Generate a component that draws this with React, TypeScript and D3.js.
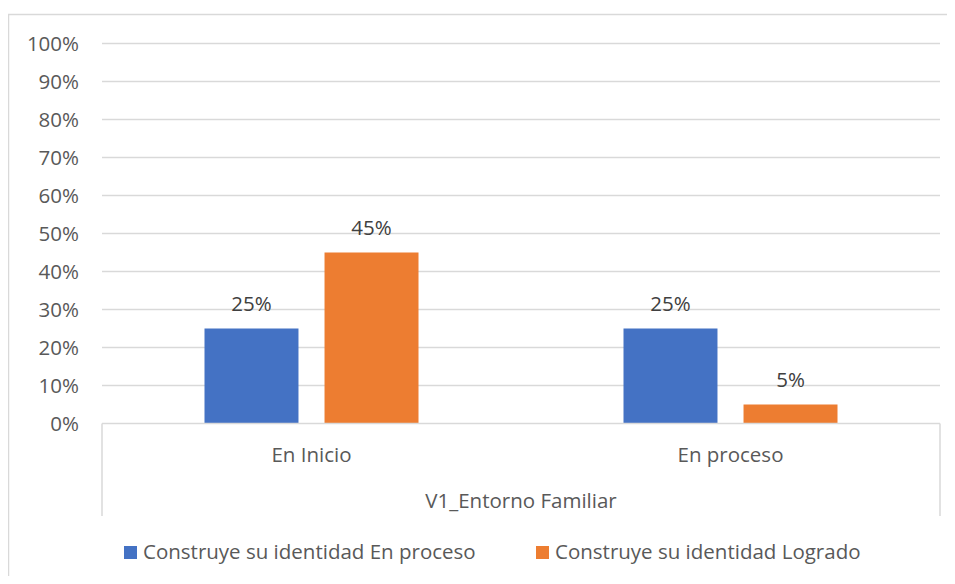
import * as d3 from "d3";

const categories = ["En Inicio", "En proceso"];
const seriesNames = ["Construye su identidad En proceso", "Construye su identidad Logrado"];
const enProcesoValues = [0.25, 0.25];
const logradoValues = [0.45, 0.05];
const yTicks = [0, 0.1, 0.2, 0.3, 0.4, 0.5, 0.6, 0.7, 0.8, 0.9, 1.0];
const groupLabel = "V1_Entorno Familiar";
const colors = ["#4472C4", "#ED7D31"];

const width = 955;
const height = 584;
const plotLeft = 102;
const plotRight = 940;
const plotTop = 43.5;
const plotBottom = 423.5;
const font = "'Open Sans', sans-serif";
const fs = 20.5;
const textColor = "#595959";

export default function App() {
  const x = d3.scaleBand<string>().domain(categories).range([plotLeft, plotRight]).paddingInner(0).paddingOuter(0);
  const x1 = d3.scaleBand<number>().domain([0, 1]).range([0, x.bandwidth()]).paddingInner(0.217).paddingOuter(0.854);
  const y = d3.scaleLinear().domain([0, 1]).range([plotBottom, plotTop]);
  const series = [enProcesoValues, logradoValues];
  const fmt = d3.format(".0%");

  return (
    <div style={{ margin: -8 }}>
      <svg width={width} height={height} style={{ display: "block", fontFamily: font }}>
        <rect x={0} y={0} width={width} height={height} fill="#fff" />
        <rect x={8.5} y={14.5} width={width} height={height} fill="none" stroke="#d9d9d9" strokeWidth={1.5} />
        {yTicks.map((t) => (
          <g key={t}>
            {t > 0 && <line x1={plotLeft} x2={plotRight} y1={y(t)} y2={y(t)} stroke="#d9d9d9" strokeWidth={1.5} />}
            <text x={79} y={y(t) + 7.5} textAnchor="end" fontSize={fs} fill={textColor}>{fmt(t)}</text>
          </g>
        ))}
        {categories.map((c, ci) =>
          series.map((vals, si) => {
            const bx = (x(c) as number) + (x1(si) as number);
            const v = vals[ci];
            return (
              <g key={c + si}>
                <rect x={bx} y={y(v)} width={x1.bandwidth()} height={plotBottom - y(v)} fill={colors[si]} />
                <text x={bx + x1.bandwidth() / 2} y={y(v) - 18} textAnchor="middle" fontSize={fs} fill="#404040">{fmt(v)}</text>
              </g>
            );
          })
        )}
        <line x1={plotLeft} x2={plotRight} y1={plotBottom} y2={plotBottom} stroke="#d9d9d9" strokeWidth={1.5} />
        <line x1={plotLeft} x2={plotLeft} y1={plotBottom} y2={516} stroke="#d9d9d9" strokeWidth={1.5} />
        <line x1={plotRight} x2={plotRight} y1={plotBottom} y2={516} stroke="#d9d9d9" strokeWidth={1.5} />
        {categories.map((c) => (
          <text key={c} x={(x(c) as number) + x.bandwidth() / 2} y={462} textAnchor="middle" fontSize={fs} fill={textColor}>{c}</text>
        ))}
        <text x={(plotLeft + plotRight) / 2} y={508} textAnchor="middle" fontSize={fs} fill={textColor}>{groupLabel}</text>
        {seriesNames.map((s, i) => {
          const lx = i === 0 ? 124 : 536;
          return (
            <g key={s}>
              <rect x={lx} y={546} width={13} height={13} fill={colors[i]} />
              <text x={lx + 19} y={559} fontSize={fs} fill={textColor}>{s}</text>
            </g>
          );
        })}
      </svg>
    </div>
  );
}
